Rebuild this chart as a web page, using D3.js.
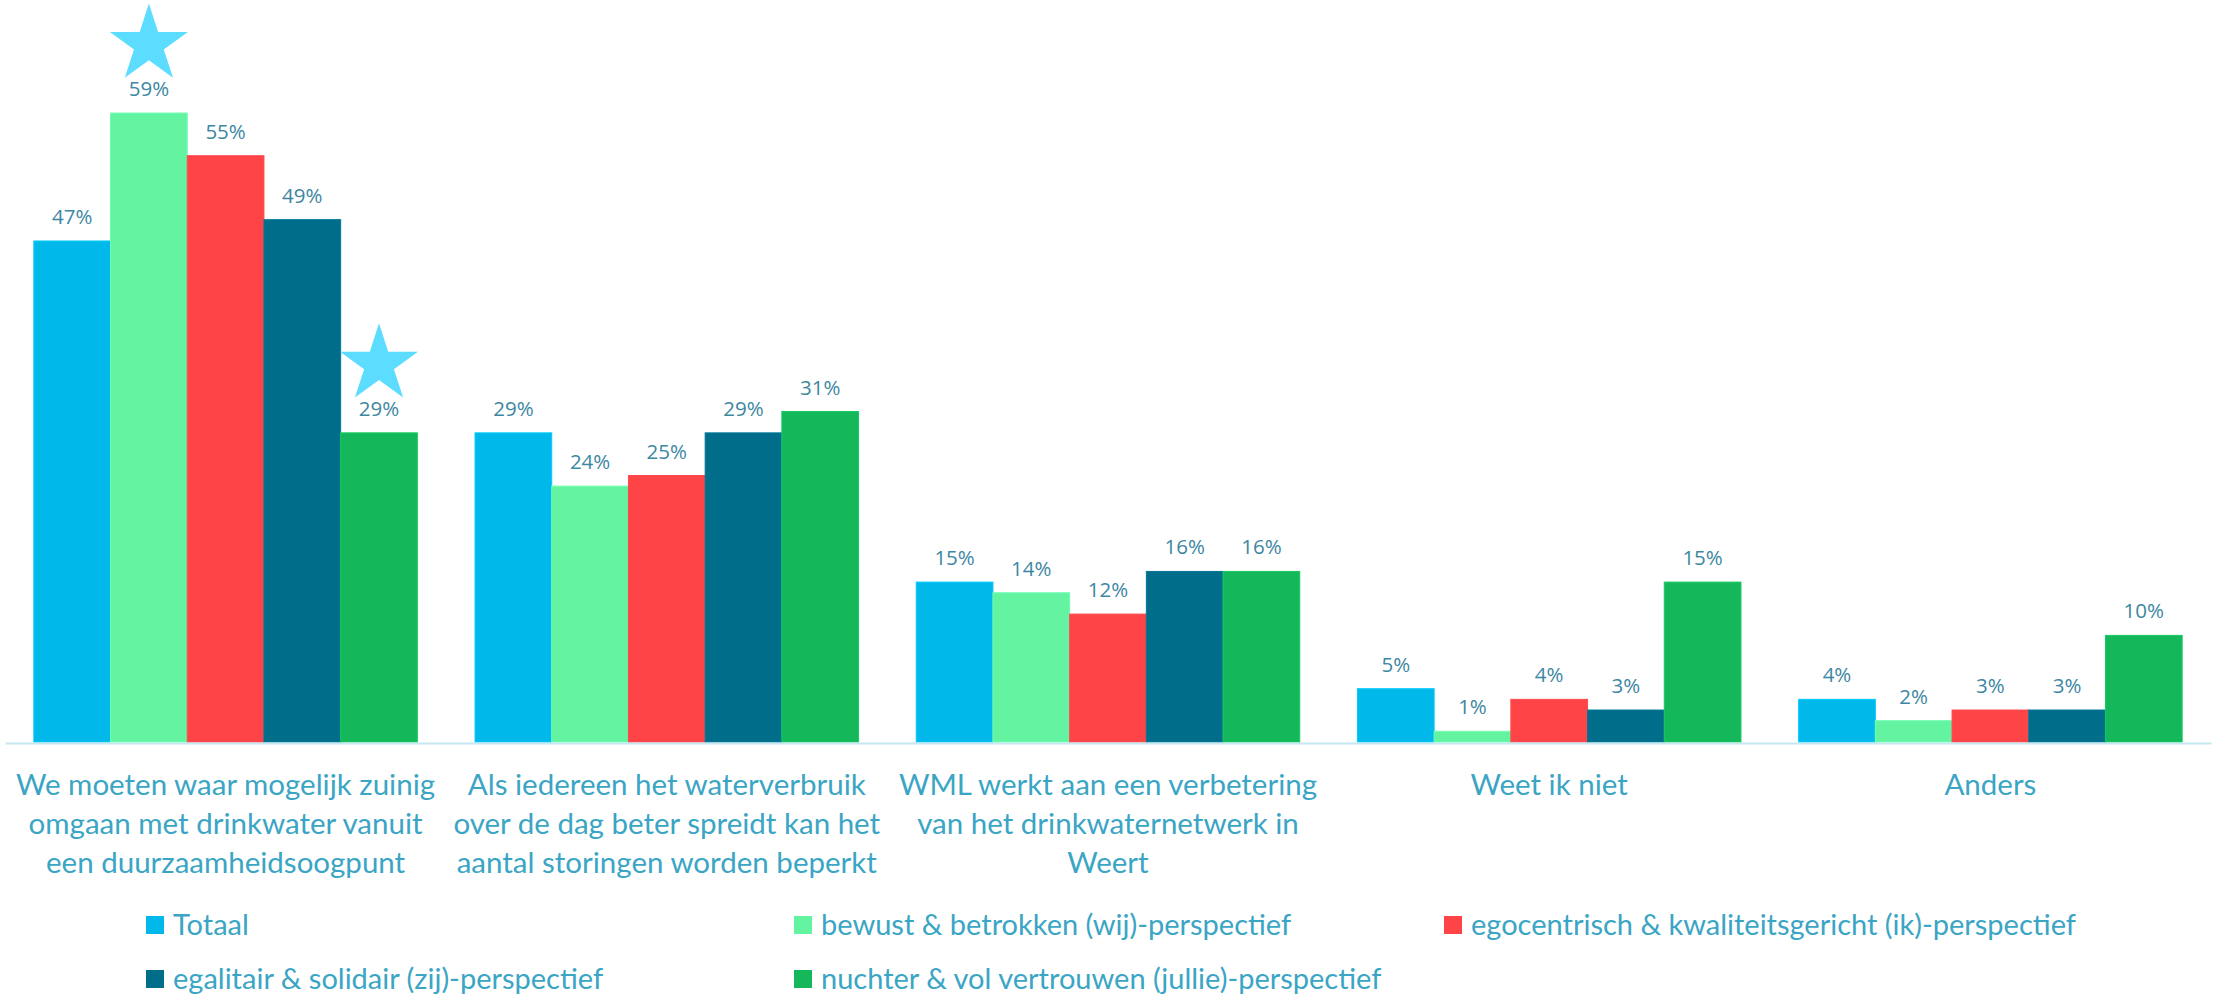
<!DOCTYPE html>
<html>
<head>
<meta charset="utf-8">
<script src="https://cdn.jsdelivr.net/npm/d3@7"></script>
<style>
  html, body { margin: 0; padding: 0; background: #ffffff; }
  svg { display: block; }
</style>
</head>
<body>
<svg id="chart" width="2216" height="995"></svg>
<script>
// Categories (each as its wrapped lines)
const categories = [
  ["We moeten waar mogelijk zuinig", "omgaan met drinkwater vanuit", "een duurzaamheidsoogpunt"],
  ["Als iedereen het waterverbruik", "over de dag beter spreidt kan het", "aantal storingen worden beperkt"],
  ["WML werkt aan een verbetering", "van het drinkwaternetwerk in", "Weert"],
  ["Weet ik niet"],
  ["Anders"]
];

// Series names
const seriesNames = [
  "Totaal",
  "bewust & betrokken (wij)-perspectief",
  "egocentrisch & kwaliteitsgericht (ik)-perspectief",
  "egalitair & solidair (zij)-perspectief",
  "nuchter & vol vertrouwen (jullie)-perspectief"
];

// Percentages per series, one value per category
const totaal    = [47, 29, 15, 5, 4];
const bewust    = [59, 24, 14, 1, 2];
const egocentr  = [55, 25, 12, 4, 3];
const egalitair = [49, 29, 16, 3, 3];
const nuchter   = [29, 31, 16, 15, 10];

// Highlighted (starred) bars: [category index, series index]
const starred = [[0, 1], [0, 4]];

const seriesColors = ["#00b9ea", "#64f3a1", "#ff4448", "#006e8b", "#14b85b"];
const starColor = "#5cdcff";

const seriesValues = [totaal, bewust, egocentr, egalitair, nuchter];

const svg = d3.select("#chart");

const baseY = 742;
const x0 = d3.scaleBand()
  .domain(d3.range(categories.length))
  .range([5, 2211])
  .paddingInner(0)
  .paddingOuter(0);

const x1 = d3.scaleBand()
  .domain(d3.range(seriesNames.length))
  .range([0, x0.bandwidth()])
  .paddingInner(0)
  .paddingOuter(0.376);

const y = d3.scaleLinear().domain([0, 60]).range([baseY, baseY - 60 * 10.66]);

const rows = categories.map((c, ci) => ({
  ci,
  bars: seriesValues.map((vals, si) => ({ ci, si, v: vals[ci] }))
}));

// Bars
const groups = svg.append("g").selectAll("g.grp")
  .data(rows)
  .join("g")
  .attr("class", "grp")
  .attr("transform", d => `translate(${x0(d.ci)},0)`);

groups.selectAll("rect")
  .data(d => d.bars)
  .join("rect")
  .attr("x", d => x1(d.si))
  .attr("width", x1.bandwidth())
  .attr("y", d => y(d.v))
  .attr("height", d => y(0) - y(d.v))
  .attr("fill", d => seriesColors[d.si])
  .attr("stroke", d => d3.color(seriesColors[d.si]).brighter(0.25))
  .attr("stroke-width", 1);

// Value labels
groups.selectAll("text.val")
  .data(d => d.bars)
  .join("text")
  .attr("class", "val")
  .attr("x", d => x1(d.si) + x1.bandwidth() / 2)
  .attr("y", d => y(d.v) - 17)
  .attr("text-anchor", "middle")
  .attr("font-family", "'Open Sans', sans-serif")
  .attr("font-size", 20.5)
  .attr("fill", "#3d87a2")
  .text(d => d.v + "%");

// Stars above highlighted bars
const starSymbol = d3.symbol().type(d3.symbolStar).size(41 * 41 / 0.8908130915292852);
svg.append("g").selectAll("path.star")
  .data(starred)
  .join("path")
  .attr("class", "star")
  .attr("d", starSymbol)
  .attr("fill", starColor)
  .attr("transform", ([ci, si]) => {
    const cx = x0(ci) + x1(si) + x1.bandwidth() / 2;
    const cy = y(seriesValues[si][ci]) - 68.5;
    return `translate(${cx},${cy})`;
  });

// Baseline axis
const axis = d3.axisBottom(x0).tickSize(0).tickFormat("");
const axG = svg.append("g").attr("transform", `translate(0,${baseY + 1})`).call(axis);
axG.select(".domain").attr("stroke", "#c6e8f0").attr("stroke-width", 2);

// Category labels
const labelFont = "Lato, 'Open Sans', sans-serif";
const catG = svg.append("g");
categories.forEach((lines, ci) => {
  const t = catG.append("text")
    .attr("text-anchor", "middle")
    .attr("font-family", labelFont)
    .attr("font-weight", 400)
    .attr("font-size", 29.5)
    .attr("fill", "#3aa5c4");
  lines.forEach((ln, li) => {
    t.append("tspan")
      .attr("x", x0(ci) + x0.bandwidth() / 2)
      .attr("y", 795 + li * 39)
      .text(ln);
  });
});

// Legend
const legendCols = [146, 794, 1444];
const legendRows = [935, 989];
const legG = svg.append("g");
seriesNames.forEach((name, i) => {
  const lx = legendCols[i % 3];
  const ly = legendRows[Math.floor(i / 3)];
  legG.append("rect")
    .attr("x", lx).attr("y", ly - 19)
    .attr("width", 18).attr("height", 18)
    .attr("fill", seriesColors[i]);
  legG.append("text")
    .attr("x", lx + 27).attr("y", ly)
    .attr("font-family", labelFont)
    .attr("font-weight", 400)
    .attr("font-size", 29)
    .attr("fill", "#3aa5c4")
    .text(name);
});
</script>
</body>
</html>
